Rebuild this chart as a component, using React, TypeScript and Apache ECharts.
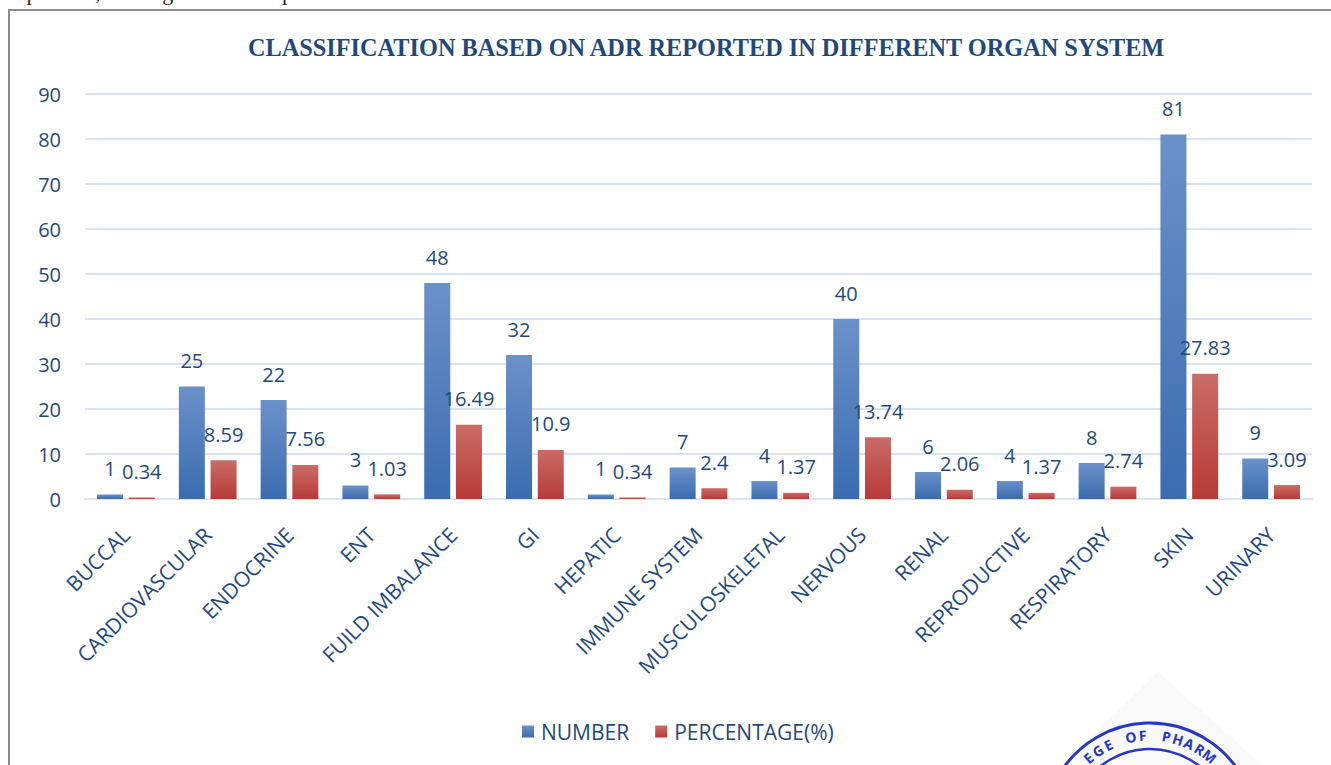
import React, { useEffect, useRef } from "react";
import * as echarts from "echarts";

const categories = [
  "BUCCAL", "CARDIOVASCULAR", "ENDOCRINE", "ENT", "FUILD IMBALANCE", "GI", "HEPATIC",
  "IMMUNE SYSTEM", "MUSCULOSKELETAL", "NERVOUS", "RENAL", "REPRODUCTIVE", "RESPIRATORY", "SKIN", "URINARY",
];
const numberValues = [1, 25, 22, 3, 48, 32, 1, 7, 4, 40, 6, 4, 8, 81, 9];
const percentageValues = [0.34, 8.59, 7.56, 1.03, 16.49, 10.9, 0.34, 2.4, 1.37, 13.74, 2.06, 1.37, 2.74, 27.83, 3.09];
const seriesNames = ["NUMBER", "PERCENTAGE(%)"];
const titleText = "CLASSIFICATION BASED ON ADR REPORTED IN DIFFERENT ORGAN SYSTEM";
const stampChars = "EGE OF PHARM".split("");

const TEXT = "#1F497D";
const GRID = "#D9E2F2";
const FONT = "'Open Sans', sans-serif";

export default function App() {
  const ref = useRef<HTMLDivElement>(null);
  useEffect(() => {
    if (!ref.current) return;
    const chart = echarts.init(ref.current, null, { renderer: "svg" });

    const cx = 1150, cy = 829, rText = 94;
    const startAng = -41, stepAng = 7.3;
    const stampLetters = stampChars.map((ch, i) => {
      const a = ((startAng + i * stepAng) * Math.PI) / 180;
      return {
        type: "text",
        x: cx + rText * Math.sin(a),
        y: cy - rText * Math.cos(a),
        rotation: -a,
        z: 12,
        style: {
          text: ch,
          fill: "#2536C8",
          font: "bold 14px 'Noto Sans', sans-serif",
          align: "center",
          verticalAlign: "middle",
        },
      };
    });

    const blueGrad = new echarts.graphic.LinearGradient(0, 0, 0, 1, [
      { offset: 0, color: "#6B91C9" },
      { offset: 1, color: "#3A6CB0" },
    ]);
    const redGrad = new echarts.graphic.LinearGradient(0, 0, 0, 1, [
      { offset: 0, color: "#C96C67" },
      { offset: 1, color: "#B83A37" },
    ]);

    const labelStyle = {
      show: true,
      position: "top",
      distance: 16,
      color: TEXT,
      fontSize: 20,
      fontFamily: FONT,
    };

    chart.setOption({
      animation: false,
      backgroundColor: "#ffffff",
      title: {
        text: titleText,
        left: 243,
        top: 30,
        textStyle: {
          color: TEXT,
          fontFamily: "'Liberation Serif', serif",
          fontWeight: "bold",
          fontSize: 24.3,
        },
      },
      legend: {
        data: seriesNames,
        left: 517,
        top: 716,
        itemWidth: 12,
        itemHeight: 12,
        itemGap: 26,
        icon: "rect",
        textStyle: { color: TEXT, fontSize: 21, fontFamily: FONT, padding: [0, 0, 0, 2] },
      },
      grid: { left: 85, right: 19, top: 94, bottom: 266, containLabel: false },
      xAxis: {
        type: "category",
        data: categories,
        axisLine: { lineStyle: { color: GRID, width: 2 } },
        axisTick: { show: false },
        axisLabel: {
          interval: 0,
          rotate: 45,
          margin: 32,
          color: TEXT,
          fontSize: 21,
          fontFamily: FONT,
        },
      },
      yAxis: {
        type: "value",
        min: 0,
        max: 90,
        interval: 10,
        axisLine: { show: false },
        axisTick: { show: false },
        axisLabel: { color: TEXT, fontSize: 20, fontFamily: FONT, margin: 24 },
        splitLine: { lineStyle: { color: GRID, width: 2 } },
      },
      series: [
        {
          name: seriesNames[0],
          type: "bar",
          data: numberValues,
          barWidth: 26,
          barGap: "22%",
          itemStyle: { color: blueGrad },
          label: labelStyle,
        },
        {
          name: seriesNames[1],
          type: "bar",
          data: percentageValues,
          barWidth: 26,
          barGap: "22%",
          itemStyle: { color: redGrad },
          label: labelStyle,
        },
      ],
      graphic: [
        {
          type: "text",
          x: -26,
          y: -19,
          z: 5,
          style: {
            text: "ity of patients, totaling 55.5% of reported ADRs",
            fill: "#222",
            font: "22px 'Liberation Serif', serif",
          },
        },
        {
          type: "rect",
          shape: { x: 9, y: 10, width: 1400, height: 800 },
          z: 5,
          style: { fill: "none", stroke: "#8A8A8A", lineWidth: 2 },
        },
        {
          type: "polygon",
          shape: { points: [[1158, 672], [1062, 765], [1262, 765]] },
          z: 8,
          style: { fill: "#F9F9F9" },
        },
        {
          type: "circle",
          shape: { cx, cy, r: 106 },
          z: 10,
          style: { fill: "none", stroke: "#2536C8", lineWidth: 3 },
        },
        {
          type: "circle",
          shape: { cx, cy, r: 80 },
          z: 10,
          style: { fill: "none", stroke: "#2536C8", lineWidth: 2.5 },
        },
        ...stampLetters,
      ],
    });
    return () => chart.dispose();
  }, []);

  return (
    <div
      ref={ref}
      style={{ position: "absolute", left: 0, top: 0, width: 1331, height: 765 }}
    />
  );
}
